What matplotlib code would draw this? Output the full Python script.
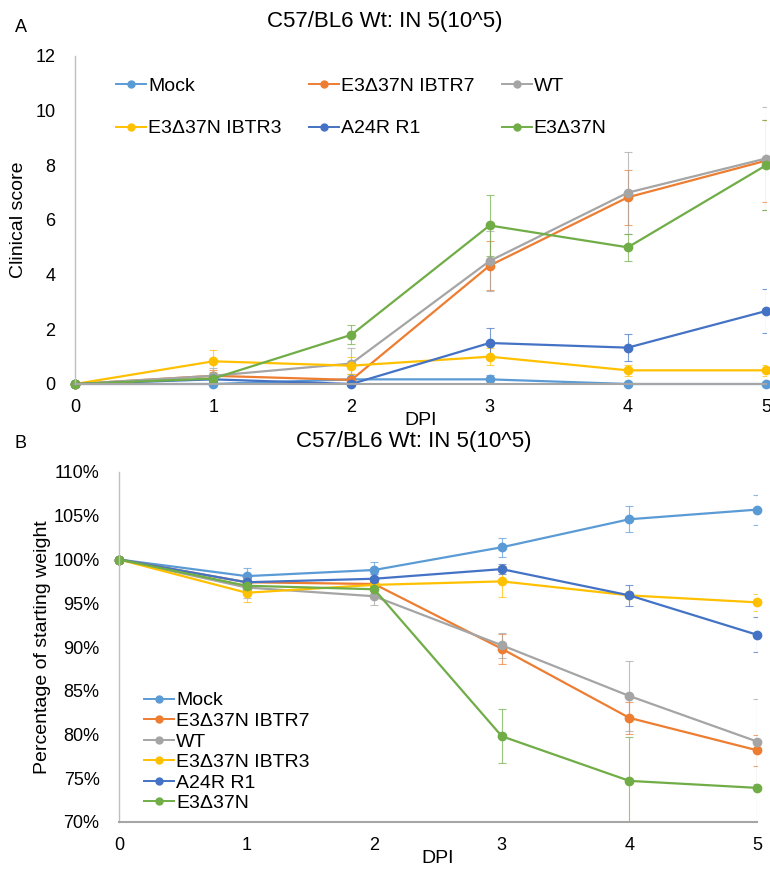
import numpy as np
import matplotlib
matplotlib.use("Agg")
import matplotlib.pyplot as plt
from matplotlib.lines import Line2D

plt.rcParams['font.family'] = ['Liberation Sans', 'DejaVu Sans']

# datos
dpi_days = [0, 1, 2, 3, 4, 5]
groups = ['Mock', 'E3Δ37N IBTR7', 'WT', 'E3Δ37N IBTR3', 'A24R R1', 'E3Δ37N']
colors = ['#5B9BD5', '#ED7D31', '#A5A5A5', '#FFC000', '#4472C4', '#70AD47']

# Panel A: clinical score
score_mock = [0, 0, 0.17, 0.17, 0, 0]
score_ibtr7 = [0, 0.3, 0.15, 4.33, 6.83, 8.17]
score_wt = [0, 0.3, 0.75, 4.5, 7.0, 8.25]
score_ibtr3 = [0, 0.83, 0.67, 1.0, 0.5, 0.5]
score_a24r = [0, 0.17, 0, 1.5, 1.33, 2.67]
score_e3 = [0, 0.2, 1.8, 5.8, 5.0, 8.0]

err_mock = [0, 0, 0, 0.17, 0, 0]
err_ibtr7 = [0, 0.2, 0.2, 0.9, 1.0, 1.5]
err_wt = [0, 0.3, 0.55, 1.1, 1.5, 1.9]
err_ibtr3 = [0, 0.4, 0.3, 0.3, 0.2, 0.2]
err_a24r = [0, 0.15, 0, 0.55, 0.5, 0.8]
err_e3 = [0, 0.15, 0.35, 1.1, 0.5, 1.65]

# Panel B: % peso inicial
wt_mock = [100, 98.1, 98.8, 101.4, 104.6, 105.7]
wt_ibtr7 = [100, 97.4, 97.2, 89.8, 81.9, 78.2]
wt_wt = [100, 96.8, 95.8, 90.2, 84.4, 79.2]
wt_ibtr3 = [100, 96.2, 97.1, 97.5, 95.9, 95.1]
wt_a24r = [100, 97.4, 97.8, 98.9, 95.9, 91.4]
wt_e3 = [100, 97.0, 96.6, 79.8, 74.7, 73.9]

werr_mock = [0, 0.9, 0.9, 1.1, 1.5, 1.7]
werr_ibtr7 = [0, 0.8, 0.6, 1.7, 1.8, 1.8]
werr_wt = [0, 1.2, 1.0, 1.4, 4.0, 4.9]
werr_ibtr3 = [0, 1.0, 0.5, 1.8, 0.3, 1.0]
werr_a24r = [0, 0.6, 0.5, 0.6, 1.2, 2.0]
werr_e3 = [0, 0.8, 0.6, 3.1, 5.0, 4.5]

scores = [score_mock, score_ibtr7, score_wt, score_ibtr3, score_a24r, score_e3]
score_errs = [err_mock, err_ibtr7, err_wt, err_ibtr3, err_a24r, err_e3]
weights = [wt_mock, wt_ibtr7, wt_wt, wt_ibtr3, wt_a24r, wt_e3]
weight_errs = [werr_mock, werr_ibtr7, werr_wt, werr_ibtr3, werr_a24r, werr_e3]

fig = plt.figure(figsize=(7.7, 8.69), dpi=100)
axA = fig.add_axes([75/770, 1-384/869, (766-75)/770, (384-56)/869])
axB = fig.add_axes([119/770, 1-822/869, (757-119)/770, (822-472)/869])


def style_axis(ax):
    for s in ['top', 'right']:
        ax.spines[s].set_visible(False)
    ax.spines['left'].set_color('#BFBFBF')
    ax.spines['bottom'].set_color('#A6A6A6')
    ax.spines['left'].set_linewidth(1.0)
    ax.spines['bottom'].set_linewidth(1.5)
    ax.tick_params(length=0, labelsize=13, colors='#000000')
    ax.tick_params(axis='x', pad=11)
    ax.tick_params(axis='y', pad=14)


def draw_series(ax, values, errs):
    for name, c, y, e in zip(groups, colors, values, errs):
        eb = ax.errorbar(dpi_days, y, yerr=e, color=c, marker='o', ms=6, lw=1.6,
                         elinewidth=0.8, capsize=3, capthick=0.8, ecolor=c,
                         clip_on=False)
        for art in eb.lines[1] + eb.lines[2]:
            art.set_alpha(0.7)
            art.set_clip_on(True)


# handles de la leyenda sin barras de error
handles = [Line2D([], [], color=c, marker='o', ms=5, lw=1.4) for c in colors]

draw_series(axA, scores, score_errs)
axA.set_xlim(0, 5)
axA.set_ylim(0, 12)
axA.set_yticks(range(0, 13, 2))
axA.set_xticks(dpi_days)
style_axis(axA)
axA.set_ylabel('Clinical score', fontsize=14, labelpad=6)
axA.set_xlabel('DPI', fontsize=14, labelpad=-3)

# orden por filas como en Excel
order = [0, 3, 1, 4, 2, 5]
axA.legend([handles[i] for i in order], [groups[i] for i in order], ncol=3,
           loc='upper left', bbox_to_anchor=(0.048, 0.96), frameon=False,
           fontsize=14, handlelength=1.55, handletextpad=0.1,
           columnspacing=1.4, labelspacing=1.3, borderaxespad=0)

draw_series(axB, weights, weight_errs)
axB.set_xlim(0, 5)
axB.set_ylim(70, 110)
axB.set_yticks(range(70, 111, 5))
axB.set_yticklabels([f'{v}%' for v in range(70, 111, 5)])
axB.set_xticks(dpi_days)
style_axis(axB)
axB.set_ylabel('Percentage of starting weight', fontsize=14, labelpad=2)
axB.set_xlabel('DPI', fontsize=14, labelpad=-3)
axB.legend(handles, groups, loc='lower left', bbox_to_anchor=(0.027, 0.006),
           frameon=False, fontsize=14, handlelength=1.55, handletextpad=0.1,
           labelspacing=0.15, borderaxespad=0)

fig.text(267/770, 1-22/869, 'C57/BL6 Wt: IN 5(10^5)', ha='left', va='center', fontsize=16)
fig.text(296/770, 1-441/869, 'C57/BL6 Wt: IN 5(10^5)', ha='left', va='center', fontsize=16)
fig.text(15/770, 1-27/869, 'A', ha='left', va='center', fontsize=13)
fig.text(15/770, 1-443/869, 'B', ha='left', va='center', fontsize=13)

fig.savefig('out.png', dpi=100)
